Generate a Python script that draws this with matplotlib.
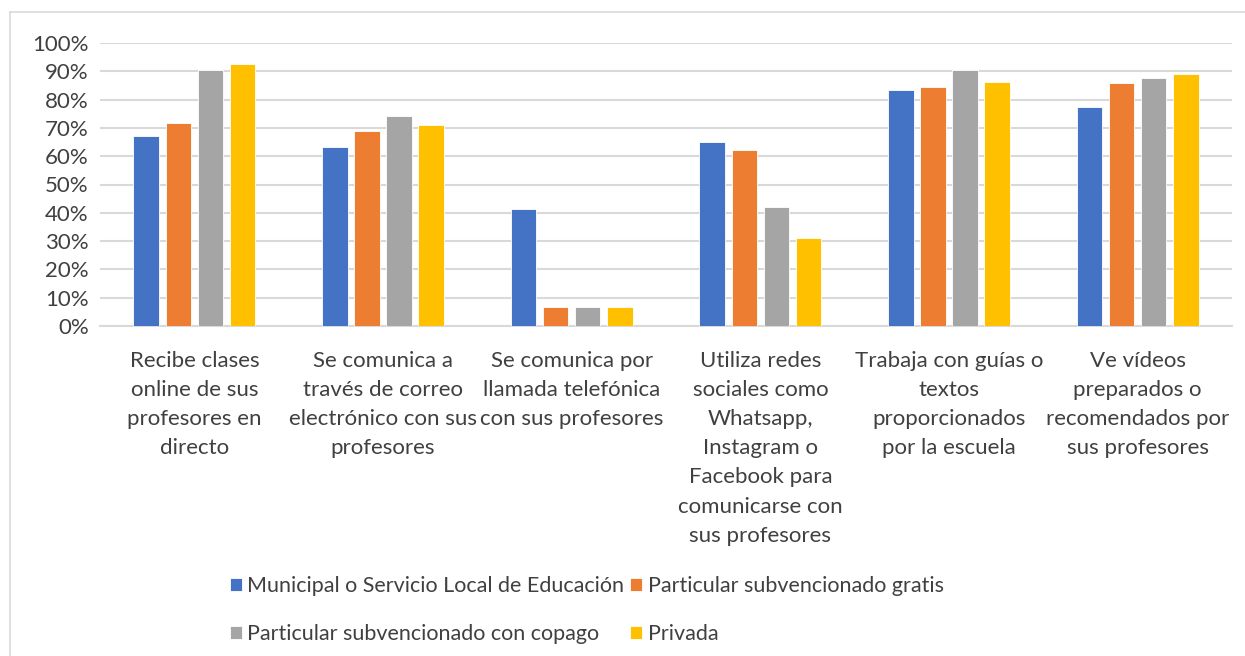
import numpy as np
import matplotlib
matplotlib.use("Agg")
import matplotlib.pyplot as plt
from matplotlib.lines import Line2D

categories = [
    "Recibe clases\nonline de sus\nprofesores en\ndirecto",
    "Se comunica a\ntravés de correo\nelectrónico con sus\nprofesores",
    "Se comunica por\nllamada telefónica\ncon sus profesores",
    "Utiliza redes\nsociales como\nWhatsapp,\nInstagram o\nFacebook para\ncomunicarse con\nsus profesores",
    "Trabaja con guías o\ntextos\nproporcionados\npor la escuela",
    "Ve vídeos\npreparados o\nrecomendados por\nsus profesores",
]
series_names = [
    "Municipal o Servicio Local de Educación",
    "Particular subvencionado gratis",
    "Particular subvencionado con copago",
    "Privada",
]
municipal = [67.2, 63.2, 41.3, 65.1, 83.5, 77.4]
subv_gratis = [71.6, 68.9, 6.6, 62.3, 84.4, 85.8]
subv_copago = [90.4, 74.3, 6.6, 42.0, 90.3, 87.6]
privada = [92.7, 70.9, 6.6, 31.0, 86.2, 88.9]
colors = ["#4472c4", "#ed7d31", "#a5a5a5", "#ffc000"]

plt.rcParams['font.family'] = ['Lato', 'DejaVu Sans']

fig = plt.figure(figsize=(12.45, 6.56), dpi=100)
ax = fig.add_axes([100/1245, 1 - 326/656, 1132/1245, 283/656])

x = np.arange(len(categories))
width = 0.135
step = 0.17
for i, (vals, name) in enumerate(zip([municipal, subv_gratis, subv_copago, privada], series_names)):
    ax.bar(x + (i - 1.5) * step, vals, width, color=colors[i], label=name,
           edgecolor="white", linewidth=0.6, zorder=3)

ax.set_xlim(-0.5, len(categories) - 0.5)
ax.set_ylim(0, 100)
ax.set_yticks(np.arange(0, 101, 10))
ax.set_yticklabels([f"{v}%" for v in range(0, 101, 10)], fontsize=16, color="#404040")
ax.set_xticks(x)
ax.set_xticklabels(categories, fontsize=16, color="#404040", linespacing=1.57)
ax.tick_params(axis="both", length=0)
ax.tick_params(axis="x", pad=18)
ax.tick_params(axis="y", pad=8)
ax.yaxis.grid(True, color="#d9d9d9", linewidth=1.5, zorder=0)
for s in ["top", "right", "left"]:
    ax.spines[s].set_visible(False)
ax.spines["bottom"].set_color("#d9d9d9")
ax.spines["bottom"].set_linewidth(1.5)

# outer chart border (top and left visible)
fig.add_artist(Line2D([10/1245, 1], [1 - 12/656, 1 - 12/656], color="#d9d9d9", linewidth=1.2, transform=fig.transFigure))
fig.add_artist(Line2D([10/1245, 10/1245], [0, 1 - 12/656], color="#d9d9d9", linewidth=1.2, transform=fig.transFigure))

handles, labels = ax.get_legend_handles_labels()
order = [0, 2, 1, 3]
fig.legend([handles[k] for k in order], [labels[k] for k in order], ncol=2, loc="center left",
           bbox_to_anchor=(219/1245, 1 - 610/656),
           frameon=False, fontsize=15.5, handlelength=0.55, handleheight=0.55, handletextpad=0.25,
           columnspacing=0.3, labelspacing=1.3, labelcolor="#404040", borderpad=0)

fig.savefig("out.png", dpi=100)
